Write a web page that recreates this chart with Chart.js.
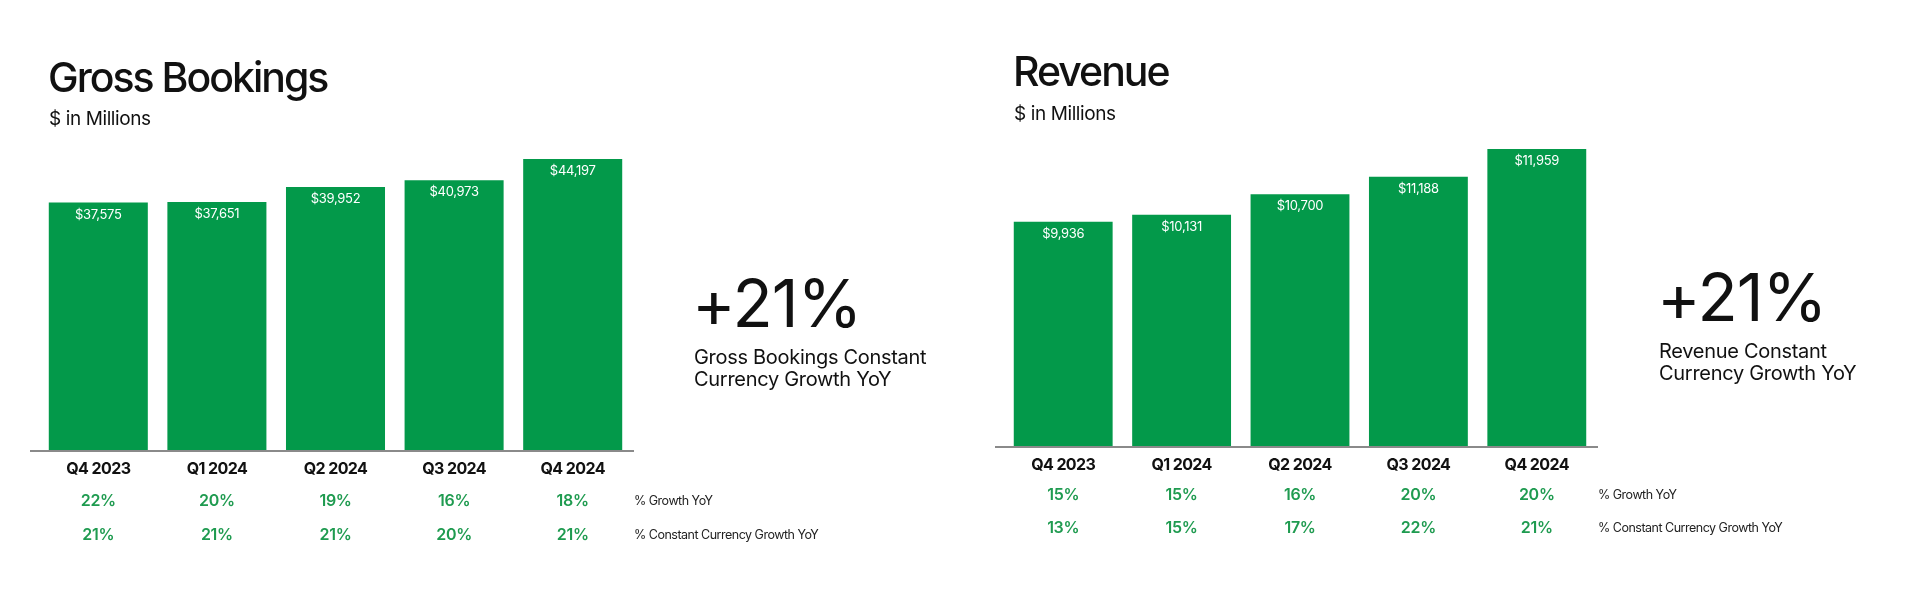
<!DOCTYPE html>
<html>
<head>
<meta charset="utf-8">
<script src="https://cdn.jsdelivr.net/npm/chart.js@4.4.1/dist/chart.umd.min.js"></script>
<style>
  html, body { margin: 0; padding: 0; background: #fff; }
  body { width: 1920px; height: 590px; position: relative; overflow: hidden; font-family: "Inter", "Noto Sans", sans-serif; color: #111; }
  .panel { position: absolute; top: 0; width: 960px; height: 590px; }
  .panel canvas { position: absolute; left: 0; top: 0; }
  .title { position: absolute; font-size: 41px; font-weight: 500; line-height: 1; letter-spacing: -2px; white-space: nowrap; }
  .sub { position: absolute; font-size: 19px; line-height: 1; letter-spacing: -0.4px; white-space: nowrap; }
  .big { position: absolute; font-size: 66px; line-height: 1; letter-spacing: -1px; white-space: nowrap; }
  .note { position: absolute; font-size: 20px; line-height: 22px; letter-spacing: -0.3px; white-space: nowrap; }
</style>
</head>
<body>
<div class="panel" id="left" style="left:0">
  <canvas id="gbChart"></canvas>
  <div class="title" style="left:48px; top:57px">Gross Bookings</div>
  <div class="sub" style="left:49px; top:109px">$ in Millions</div>
  <div class="big" style="left:692px; top:270px">+21%</div>
  <div class="note" style="left:694px; top:346px">Gross Bookings Constant<br>Currency Growth YoY</div>
</div>
<div class="panel" id="right" style="left:960px">
  <canvas id="revChart"></canvas>
  <div class="title" style="left:53px; top:51px">Revenue</div>
  <div class="sub" style="left:54px; top:104px">$ in Millions</div>
  <div class="big" style="left:697px; top:264px">+21%</div>
  <div class="note" style="left:699px; top:340px">Revenue Constant<br>Currency Growth YoY</div>
</div>
<script>
// 数据
const quarters = ['Q4 2023', 'Q1 2024', 'Q2 2024', 'Q3 2024', 'Q4 2024'];
const grossBookings = [37575, 37651, 39952, 40973, 44197];
const gbGrowth = [22, 20, 19, 16, 18];
const gbCcGrowth = [21, 21, 21, 20, 21];
const revenue = [9936, 10131, 10700, 11188, 11959];
const revGrowth = [15, 15, 16, 20, 20];
const revCcGrowth = [13, 15, 17, 22, 21];
const rowLabels = ['% Growth YoY', '% Constant Currency Growth YoY'];

const GREEN = '#03994A';
const TEXT_GREEN = '#1f9b50';

// 柱顶数值、基线、季度标签和增长率行
const tablePlugin = {
  id: 'table',
  afterDatasetsDraw(chart, args, opts) {
    const ctx = chart.ctx;
    const area = chart.chartArea;
    const xs = chart.scales.x;
    const meta = chart.getDatasetMeta(0);
    const base = area.bottom;
    ctx.save();

    // 柱内数值
    ctx.fillStyle = '#fff';
    ctx.font = '13px Inter';
    ctx.letterSpacing = '-0.3px';
    ctx.textAlign = 'center';
    ctx.textBaseline = 'middle';
    meta.data.forEach((bar, i) => {
      ctx.fillText('$' + chart.data.datasets[0].data[i].toLocaleString('en-US'), bar.x, bar.y + 12);
    });

    // 基线
    ctx.strokeStyle = '#8a8a8a';
    ctx.lineWidth = 2;
    ctx.beginPath();
    ctx.moveTo(area.left - 9, base + 1);
    ctx.lineTo(area.right + 2, base + 1);
    ctx.stroke();

    // 季度标签
    ctx.fillStyle = '#111';
    ctx.font = '700 16px Inter';
    ctx.letterSpacing = '-0.6px';
    quarters.forEach((q, i) => {
      ctx.fillText(q, xs.getPixelForValue(i), base + 19);
    });

    // 增长率
    ctx.fillStyle = TEXT_GREEN;
    ctx.font = '600 16px Inter';
    ctx.letterSpacing = '-0.3px';
    opts.rows.forEach((row, r) => {
      row.forEach((v, i) => {
        ctx.fillText(v + '%', xs.getPixelForValue(i), base + opts.rowY[r]);
      });
    });

    // 行标签
    ctx.fillStyle = '#222';
    ctx.font = '12.5px Inter';
    ctx.letterSpacing = '-0.5px';
    ctx.textAlign = 'left';
    rowLabels.forEach((t, r) => {
      ctx.fillText(t, area.right + 2, base + opts.rowY[r]);
    });
    ctx.restore();
  }
};

const makeChart = function (id, values, yMin, yMax, padding, rows, rowY) {
  const canvas = document.getElementById(id);
  canvas.width = 960;
  canvas.height = 590;
  return new Chart(canvas, {
    type: 'bar',
    data: {
      labels: quarters,
      datasets: [{
        data: values,
        backgroundColor: GREEN,
        borderWidth: 0,
        barPercentage: 0.835,
        categoryPercentage: 1
      }]
    },
    options: {
      responsive: false,
      animation: false,
      devicePixelRatio: 1,
      layout: { padding: padding },
      scales: {
        x: { display: false },
        y: { display: false, min: yMin, max: yMax }
      },
      plugins: {
        legend: { display: false },
        tooltip: { enabled: false },
        table: { rows: rows, rowY: rowY }
      }
    },
    plugins: [tablePlugin]
  });
};

makeChart('gbChart', grossBookings, 0, 47083,
  { left: 39, right: 328, top: 140, bottom: 140 },
  [gbGrowth, gbCcGrowth], [51, 85]);

makeChart('revChart', revenue, 3700, 12207,
  { left: 44, right: 324, top: 140, bottom: 144 },
  [revGrowth, revCcGrowth], [49, 82]);
</script>
</body>
</html>
